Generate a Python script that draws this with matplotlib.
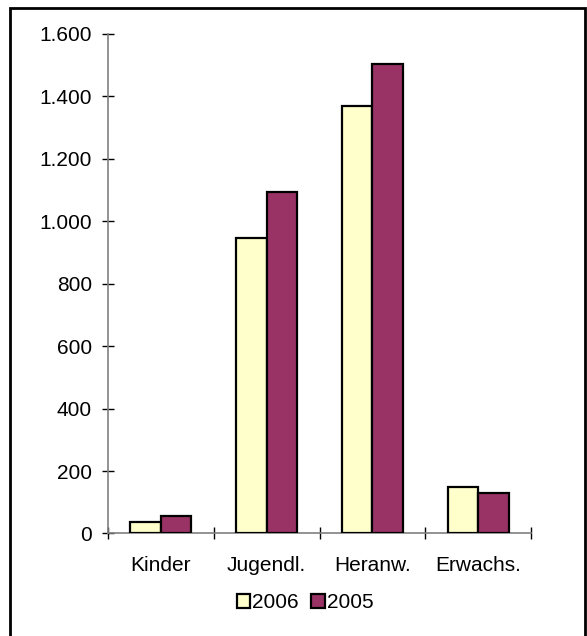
import matplotlib.pyplot as plt
from matplotlib.patches import Rectangle
from matplotlib.ticker import FixedLocator, FuncFormatter
import numpy as np

plt.rcParams['font.family'] = ['Liberation Sans', 'DejaVu Sans']

categories = ["Kinder", "Jugendl.", "Heranw.", "Erwachs."]
years = ["2006", "2005"]
values_2006 = [38, 945, 1368, 149]
values_2005 = [55, 1093, 1504, 129]
colors = ["#FFFFCC", "#993366"]

fig = plt.figure(figsize=(5.87, 6.36), dpi=100)
ax = fig.add_axes([0.184, 0.1612, 0.7206, 0.7854])

x = np.arange(len(categories))
w = 0.288
for i, (vals, lab, col) in enumerate(zip([values_2006, values_2005], years, colors)):
    ax.bar(x + (i - 0.5) * w, vals, width=w, color=col, edgecolor="black",
           linewidth=1.6, label=lab, zorder=3)

ax.set_xlim(-0.5, len(categories) - 0.5)
ax.set_ylim(0, 1600)

# category boundaries get the ticks, names sit on minor ticks at the centres
ax.xaxis.set_major_locator(FixedLocator(np.arange(len(categories) + 1) - 0.5))
ax.xaxis.set_major_formatter(FuncFormatter(lambda v, p: ""))
ax.xaxis.set_minor_locator(FixedLocator(x))
ax.set_xticklabels(categories, minor=True)
ax.tick_params(axis="x", which="minor", length=0, pad=16, labelsize=15)
ax.tick_params(axis="x", which="major", direction="inout", length=9, width=1, color="black")

ax.set_yticks(np.arange(0, 1601, 200))
ax.yaxis.set_major_formatter(FuncFormatter(lambda v, p: f"{v:,.0f}".replace(",", ".")))
ax.tick_params(axis="y", direction="inout", length=9, width=1, color="black", labelsize=15, pad=7)

for s in ["top", "right"]:
    ax.spines[s].set_visible(False)
for s in ["left", "bottom"]:
    ax.spines[s].set_color("#808080")
    ax.spines[s].set_linewidth(1.2)

fig.legend(loc="center", bbox_to_anchor=(305 / 587, 1 - 603 / 636), ncol=2,
           frameon=False, fontsize=15, handlelength=0.65, handleheight=0.65,
           handletextpad=0.1, columnspacing=0.6, borderpad=0)

# outer frame around the whole chart
fig.patches.append(Rectangle((10 / 587, -0.05), 575 / 587, 1.05 - 8 / 636,
                             transform=fig.transFigure, fill=False,
                             edgecolor="black", linewidth=2))

fig.savefig("out.png", dpi=100)
